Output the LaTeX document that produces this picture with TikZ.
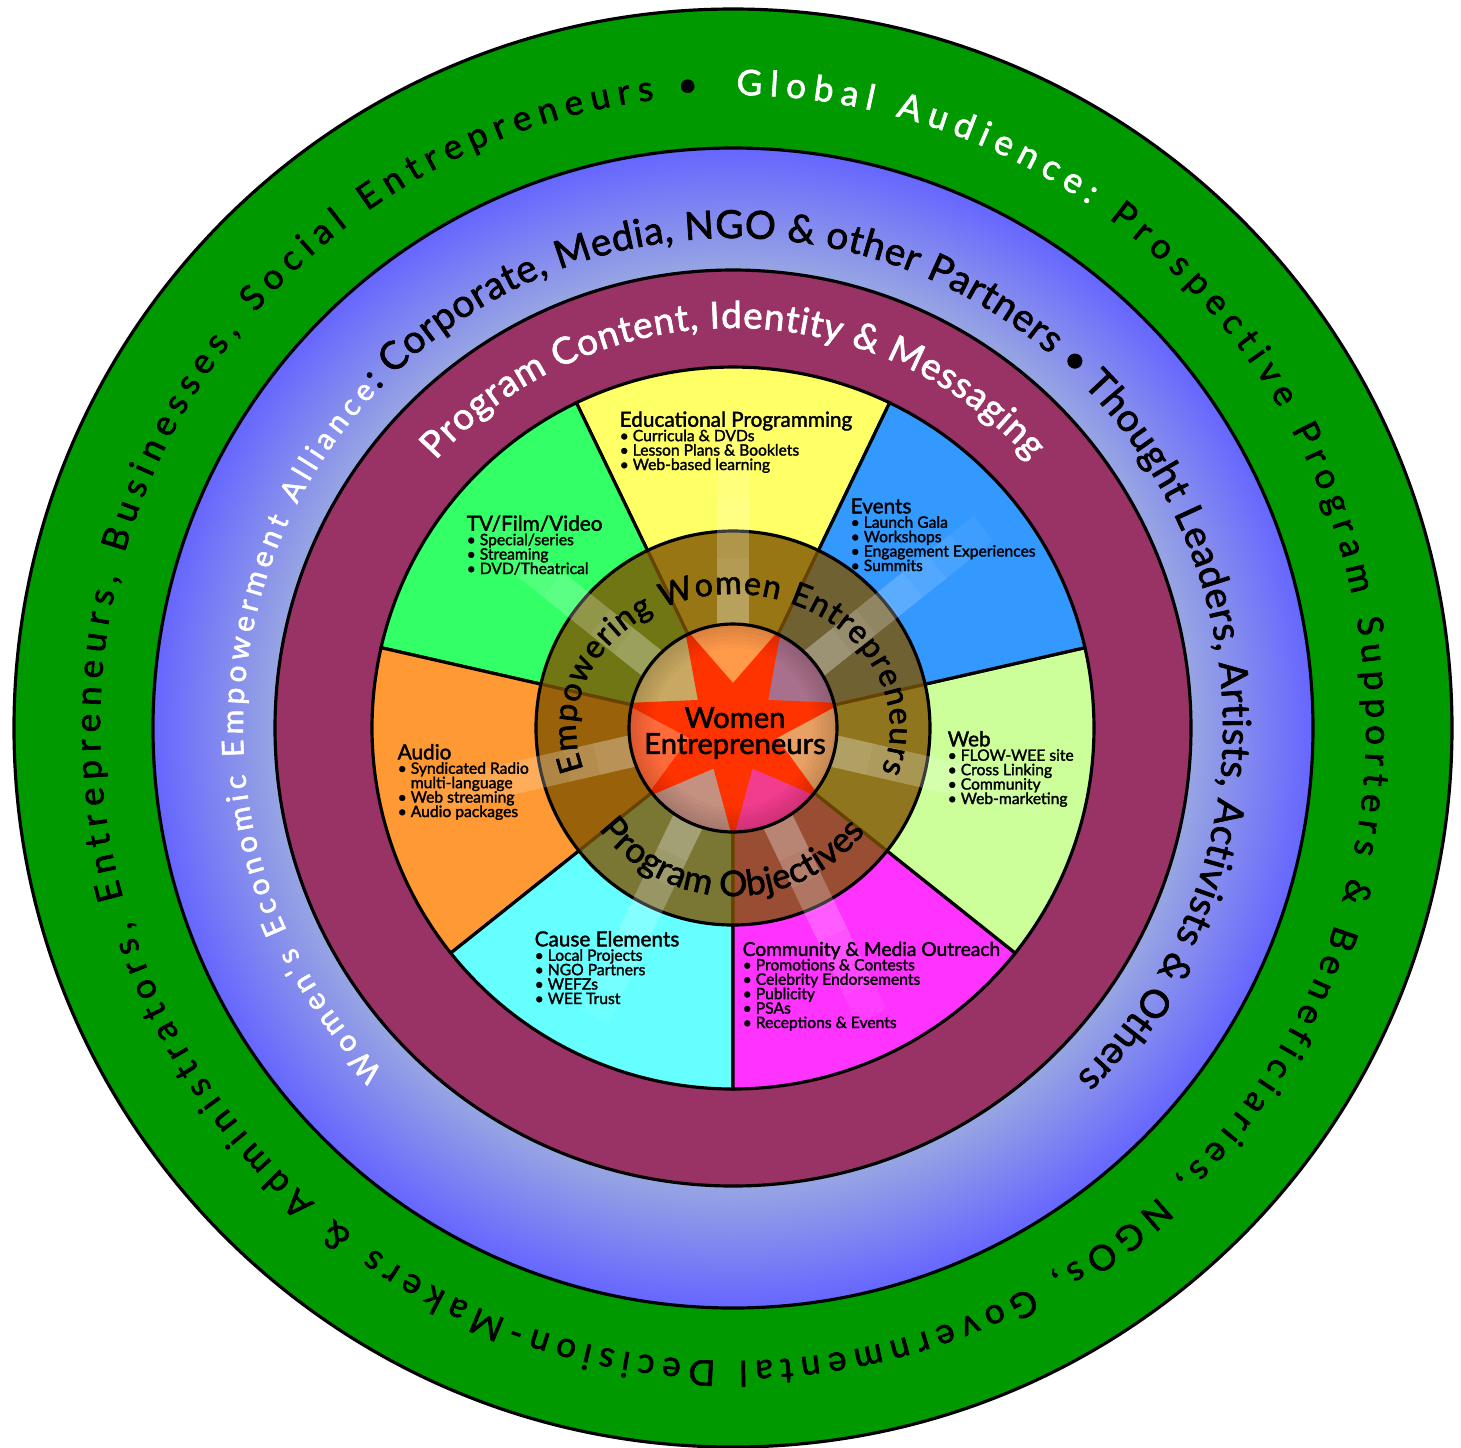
\documentclass[tikz,border=0pt]{standalone}
\usepackage{fontspec}
\setmainfont{Lato}
\newfontfamily\medfont{Lato}[FakeBold=1.8]
\usetikzlibrary{positioning,decorations.text}

\definecolor{audiencegreen}{HTML}{009900}
\definecolor{alliancelight}{HTML}{98A6E2}
\definecolor{allianceviolet}{HTML}{6666FF}
\definecolor{contentmaroon}{HTML}{993366}
\definecolor{eduyellow}{HTML}{FFFF66}
\definecolor{tvgreen}{HTML}{33FF66}
\definecolor{audioorange}{HTML}{FF9933}
\definecolor{causecyan}{HTML}{66FFFF}
\definecolor{outreachpink}{HTML}{FF33FF}
\definecolor{weblime}{HTML}{CCFF99}
\definecolor{eventsblue}{HTML}{3399FF}
\definecolor{objbrown}{HTML}{805400}
\definecolor{starred}{HTML}{FF3300}
\definecolor{corebase}{HTML}{FF7A36}
\definecolor{gapedu}{HTML}{FF9A4A}
\definecolor{gapevents}{HTML}{A8708C}
\definecolor{gapweb}{HTML}{E8A064}
\definecolor{gapoutreach}{HTML}{F23C8E}
\definecolor{gapcause}{HTML}{C49080}
\definecolor{gapaudio}{HTML}{FF6A3A}
\definecolor{gaptv}{HTML}{C8A862}

\pgfdeclareradialshading{allianceshade}{\pgfpointorigin}{color(0bp)=(alliancelight); color(19.7bp)=(alliancelight); color(25bp)=(allianceviolet); color(50bp)=(allianceviolet)}

\newcommand{\audwhite}{\medfont\fontsize{10pt}{12pt}\selectfont\color{white}}
\newcommand{\audblack}{\medfont\fontsize{10pt}{12pt}\selectfont\color{black}}
\newcommand{\allywhite}{\medfont\fontsize{8.5pt}{10pt}\selectfont\color{white}}
\newcommand{\allyblack}{\medfont\fontsize{11pt}{13pt}\selectfont\color{black}}
\newcommand{\contentwhite}{\medfont\fontsize{10.5pt}{12pt}\selectfont\color{white}}
\newcommand{\coreblack}{\medfont\fontsize{9.2pt}{11pt}\selectfont\color{black}}
\newcommand{\objblack}{\medfont\fontsize{10pt}{12pt}\selectfont\color{black}}
\newcommand{\itemfont}{\medfont\fontsize{4.45pt}{4.1pt}\selectfont}
\newcommand{\segtitle}[2][5.9pt]{{\medfont\fontsize{#1}{4.1pt}\selectfont #2}}
\lineskiplimit=-6pt

\begin{document}
\begin{tikzpicture}[x=0.01cm,y=0.01cm]
\tikzset{
    ringline/.style={draw=black, line width=0.9pt},
    seglabel/.style={anchor=base west, align=left, inner sep=0pt, font=\itemfont},
    ringtext/.style={decorate, decoration={text along path, text align={fit to path}, text={#1}}}
}
\useasboundingbox (-733,-719) rectangle (728,728);

\filldraw[fill=audiencegreen, ringline] (0,0) circle[radius=719];
\shade[shading=allianceshade] (0,0) circle[radius=580];
\draw[ringline] (0,0) circle[radius=580];
\filldraw[fill=contentmaroon, ringline] (0,0) circle[radius=458];

\foreach \a/\c in {64.29/eduyellow, 115.71/tvgreen, 167.14/audioorange, 218.57/causecyan, 270/outreachpink, 321.43/weblime, 372.86/eventsblue}
    \filldraw[fill=\c, ringline] (0,0) -- (\a:361) arc[start angle=\a, delta angle=51.43, radius=361] -- cycle;

\fill[objbrown, opacity=0.8, even odd rule] (0,0) circle[radius=197] circle[radius=104];
\draw[ringline] (0,0) circle[radius=197];

\foreach \a in {90,141.43,192.86,244.29,295.71,347.14,38.57}
    \foreach \len in {140,170,...,320}
        \fill[white, opacity=0.055, rotate=\a] (104,-16) rectangle (\len,16);

\begin{scope}
    \clip (0,0) circle[radius=104];
    \fill[corebase] (0,0) circle[radius=104];
    \foreach \a/\c in {90/gapedu, 38.57/gapevents, 347.14/gapweb, 295.71/gapoutreach, 244.29/gapcause, 192.86/gapaudio, 141.43/gaptv}
        \fill[\c] (0,0) -- ({\a-25.71}:112) arc[start angle=\a-25.71, delta angle=51.43, radius=112] -- cycle;
    \fill[starred] (-90:112) \foreach \ang/\r in {-64.29/45, -38.57/112, -12.86/45, 12.86/112, 38.57/45, 64.29/112, 90/45, 115.71/112, 141.43/45, 167.14/112, 192.86/45, 218.57/112, 244.29/45} { -- (\ang:\r) } -- cycle;
    \foreach \r in {80,84,...,104}
        \fill[black, opacity=0.025, even odd rule] (0,0) circle[radius=106] circle[radius=\r];
\end{scope}
\draw[ringline] (0,0) circle[radius=104];

\path[ringtext={|\audwhite|Global Audience: |\audblack|Prospective Program Supporters {\&} Beneficiaries, NGOs, Governmental Decision-Makers {\&} Administrators, Entrepreneurs, Businesses, Social Entrepreneurs •}] (89.7:633) arc[start angle=89.7, end angle=-266.8, radius=633];
\path[ringtext={|\allywhite|Women's Economic Empowerment Alliance}] (224.5:490) arc[start angle=224.5, end angle=136.8, radius=490];
\path[ringtext={|\allyblack|: Corporate, Media, NGO {\&} other Partners • Thought Leaders, Artists, Activists {\&} Others}] (136.4:490) arc[start angle=136.4, end angle=-45.5, radius=490];
\path[ringtext={|\contentwhite|Program Content, Identity {\&} Messaging}] (138:400) arc[start angle=138, end angle=42, radius=400];
\path[ringtext={|\coreblack|Empowering Women Entrepreneurs}] (198:157 and 134) arc[start angle=198, end angle=-19, x radius=157, y radius=134];
\path[ringtext={|\objblack|Program Objectives}] (217:168) arc[start angle=217, end angle=322, radius=168];

\node[seglabel] (edu) at (-114,258) {\segtitle{Educational Programming}\\• Curricula \& DVDs\\• Lesson Plans \& Booklets\\• Web-based learning};
\node[seglabel] (tv) at (-267,154) {\segtitle{TV/Film/Video}\\• Special/series\\• Streaming\\• DVD/Theatrical};
\node[seglabel] (events) at (117,157) {\segtitle{Events}\\• Launch Gala\\• Workshops\\• Engagement Experiences\\• Summits};
\node[seglabel] (audio) at (-336,-89) {\segtitle{Audio}\\• Syndicated Radio\\\phantom{• }multi-language\\• Web streaming\\• Audio packages};
\node[seglabel] (web) at (214,-76) {\segtitle{Web}\\• FLOW-WEE site\\• Cross Linking\\• Community\\• Web-marketing};
\node[seglabel] (cause) at (-199,-276) {\segtitle{Cause Elements}\\• Local Projects\\• NGO Partners\\• WEFZs\\• WEE Trust};
\node[seglabel] (outreach) at (9,-300) {\segtitle[5.45pt]{Community \& Media Outreach}\\• Promotions \& Contests\\• Celebrity Endorsements\\• Publicity\\• PSAs\\• Receptions \& Events};
\node[align=center, inner sep=0pt, font=\medfont\fontsize{8.3pt}{7.4pt}\selectfont] (core) at (2,-5) {Women\\Entrepreneurs};
\end{tikzpicture}
\end{document}
